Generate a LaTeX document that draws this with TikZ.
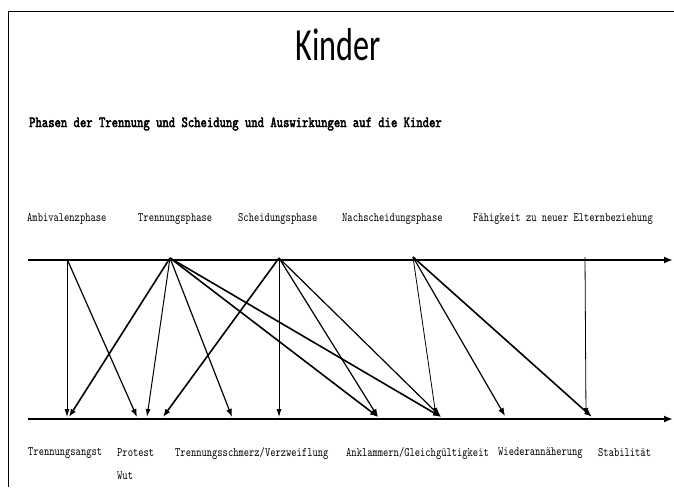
\documentclass[tikz,border=0pt]{standalone}
\usepackage{fontspec}
\usetikzlibrary{arrows.meta}
\newfontfamily\titlefont{Carlito}[FakeStretch=0.7]
\newfontfamily\labelfont{lmmono10-regular.otf}[FakeStretch=0.78]
\newfontfamily\headfont{lmmono10-regular.otf}[FakeStretch=0.78, FakeBold=2.5]
\tikzset{
  phase/.style={anchor=west, inner sep=0pt, font=\labelfont\fontsize{12.9}{15}\selectfont},
  axis/.style={line width=2.2pt, -{Latex[length=9pt,width=7pt]}},
  thin arrow/.style={line width=0.8pt, -{Latex[length=8pt,width=5pt]}},
  thick arrow/.style={line width=1.6pt, -{Latex[length=8pt,width=6pt]}}
}

\begin{document}
\begin{tikzpicture}[x=1pt,y=-1pt]
			\useasboundingbox (0,0) rectangle (674,487);
			% frame of the slide
			\draw [line width=0.8pt] (674,11) -- (8,11) -- (8,487);
			\node (title) at (338,45) {\titlefont\fontsize{46}{50}\selectfont Kinder};
			\node (subtitle) [anchor=west, inner sep=0pt] at (29,124) {\headfont\fontsize{15.5}{17}\selectfont Phasen der Trennung und Scheidung und Auswirkungen auf die Kinder};

			% phases
			\node (ambi) [phase] at (27,219) {Ambivalenzphase};
			\node (trenn) [phase] at (138,219) {Trennungsphase};
			\node (scheid) [phase] at (238,219) {Scheidungsphase};
			\node (nach) [phase] at (342,219) {Nachscheidungsphase};
			\node (faeh) [phase] at (473,219) {Fähigkeit zu neuer Elternbeziehung};

			% effects
			\node (angst) [phase] at (28,453) {Trennungsangst};
			\node (protest) [phase] at (117,453) {Protest};
			\node (wut) [phase] at (117,476) {Wut};
			\node (schmerz) [phase] at (175,453) {Trennungsschmerz/Verzweiflung};
			\node (klammer) [phase] at (346,453) {Anklammern/Gleichgültigkeit};
			\node (wieder) [phase] at (498,453) {Wiederannäherung};
			\node (stabil) [phase] at (598,453) {Stabilität};

			% axes
			\coordinate (top0) at (28,260);
			\coordinate (top1) at (673,260);
			\coordinate (bot0) at (28,419);
			\coordinate (bot1) at (673,419);
			\draw [axis] (top0) -- (top1);
			\draw [axis, line width=1.8pt] (bot0) -- (bot1);

			% start points
			\coordinate (sA) at (67,259);
			\coordinate (sT) at (170,258);
			\coordinate (sS) at (279,258);
			\coordinate (sN) at (413,257);
			\coordinate (sF) at (585,257);

			% end points
			\coordinate (eAngst) at (67,417);
			\coordinate (eAngst2) at (69,417);
			\coordinate (eProt1) at (137,417);
			\coordinate (eProt2) at (147,417);
			\coordinate (eProt3) at (163,417);
			\coordinate (eSchm) at (232,417);
			\coordinate (eMid) at (279,417);
			\coordinate (eKlam1) at (378,417);
			\coordinate (eKlam2) at (441,417);
			\coordinate (eKlam3) at (436,416);
			\coordinate (eWied) at (505,416);
			\coordinate (eStab1) at (586,416);
			\coordinate (eStab2) at (592,417);

			\draw [thin arrow] (sA) -- (eAngst);
			\draw [thick arrow, line width=1.2pt] (sA) -- (eProt1);
			\draw [thick arrow] (sT) -- (eAngst2);
			\draw [thin arrow, line width=1pt] (sT) -- (eProt2);
			\draw [thick arrow, line width=1.2pt] (sT) -- (eSchm);
			\draw [thick arrow] (sT) -- (eKlam1);
			\draw [thick arrow] (sT) -- (eKlam2);
			\draw [thick arrow] (sS) -- (eProt3);
			\draw [thin arrow] (sS) -- (eMid);
			\draw [thick arrow, line width=1.2pt] (sS) -- (eKlam1);
			\draw [thick arrow, line width=1.2pt] (sS) -- (eKlam2);
			\draw [thin arrow] (sN) -- (eKlam3);
			\draw [thick arrow, line width=1.2pt] (sN) -- (eWied);
			\draw [thick arrow] (sN) -- (eStab2);
			\draw [thin arrow] (sF) -- (eStab1);
		\end{tikzpicture}
\end{document}
